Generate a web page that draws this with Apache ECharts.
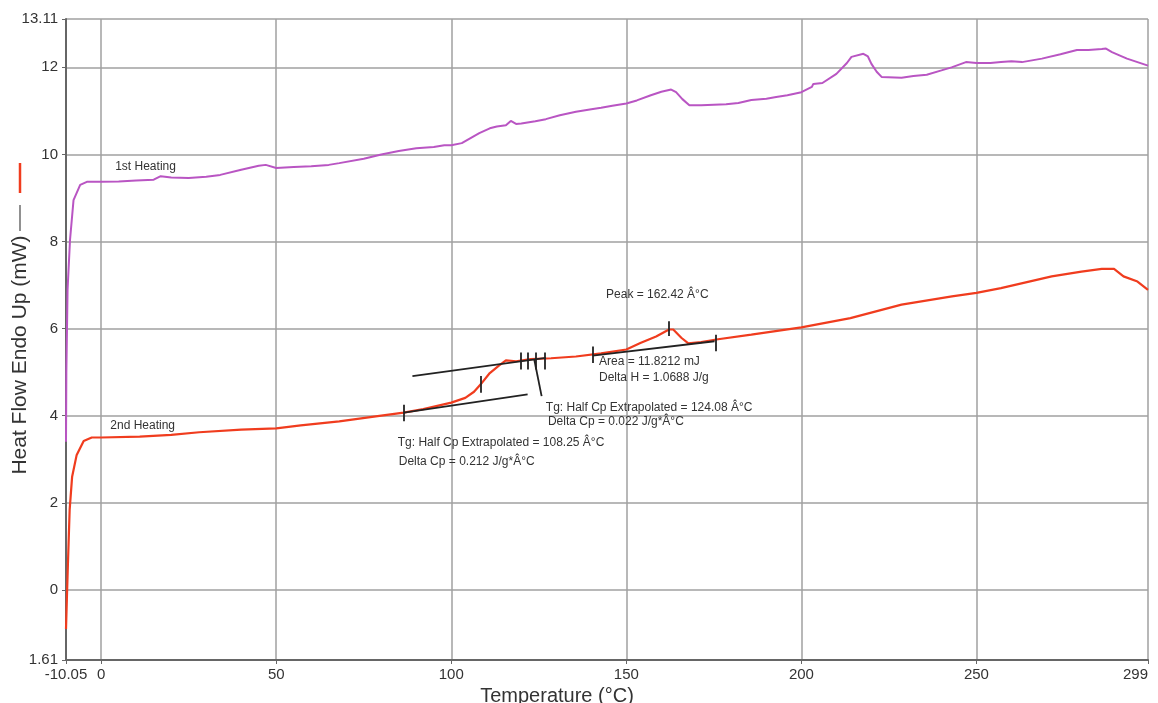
<!DOCTYPE html>
<html>
<head>
<meta charset="utf-8">
<script src="https://cdn.jsdelivr.net/npm/echarts@6/dist/echarts.min.js"></script>
<style>html,body{margin:0;padding:0;background:#fff;}#c{width:1158px;height:703px;}</style>
</head>
<body>
<div id="c"></div>
<script>
// ---- Data ----
const temp1 = [-10.05,-9.95,-9.6,-8.9,-7.9,-6.0,-4.1,0,5,10,15,17,20,25,30,34,40,45,47,50,55,60,65,68,75,80,85,90,95,98,100,103,106,108,111,113,115.6,117,118.5,120,124,127,131,135.6,140,142.8,146,150,153,157,160,162.8,164.2,166,168,171.4,175,178.5,182,185.7,190,192.8,196,200,203,203.4,206,210,213,214.3,217.7,219,220,221.5,222.9,228.6,232,235.8,240,242.9,247,250,254,257,260,263,268.7,274,278.7,282,285.8,287,288.7,291,293,296,299];
const heat1 = [3.4,5.0,6.9,8.04,8.95,9.3,9.37,9.37,9.38,9.4,9.42,9.5,9.47,9.46,9.49,9.53,9.65,9.74,9.76,9.69,9.71,9.73,9.76,9.80,9.9,10.0,10.08,10.14,10.17,10.21,10.21,10.26,10.4,10.49,10.6,10.64,10.67,10.77,10.7,10.71,10.76,10.81,10.9,10.98,11.04,11.07,11.12,11.17,11.24,11.36,11.44,11.49,11.43,11.27,11.13,11.13,11.14,11.15,11.18,11.25,11.28,11.32,11.36,11.43,11.55,11.62,11.64,11.85,12.1,12.24,12.31,12.25,12.08,11.9,11.78,11.76,11.8,11.83,11.93,12.0,12.12,12.1,12.1,12.12,12.14,12.12,12.2,12.3,12.4,12.4,12.42,12.43,12.35,12.27,12.2,12.12,12.04];

const temp2 = [-10.05,-9.8,-9.5,-9.0,-8.3,-7.0,-5.0,-2.7,0,11,20,28,40,50,57,68,80,86.4,92,100,104,106.5,108.4,111,113.6,115.6,118.5,122.7,128.5,135.6,142.8,150,154,158.5,162.2,163.4,165.7,167.7,171.4,175.7,185.7,200,214,228.6,243,250,257,271.5,280,285.8,289.3,292,296,299];
const heat2 = [-0.9,-0.2,0.6,1.85,2.6,3.1,3.42,3.5,3.5,3.52,3.56,3.62,3.68,3.71,3.78,3.87,4.0,4.07,4.15,4.3,4.41,4.55,4.72,4.98,5.15,5.27,5.25,5.3,5.32,5.36,5.43,5.52,5.67,5.82,5.98,5.98,5.79,5.66,5.69,5.75,5.86,6.03,6.24,6.55,6.74,6.82,6.93,7.2,7.31,7.37,7.37,7.2,7.08,6.89];

// analysis construction lines: [x1, y1, x2, y2]
const baseLines = [
  [86.5,4.07,121.8,4.49],
  [88.9,4.91,127.0,5.33],
  [123.7,5.29,125.8,4.45],
  [140.4,5.38,175.2,5.71]
];
// vertical marker ticks: [x, yLow, yHigh]
const markerTicks = [
  [86.5,3.87,4.25],
  [108.3,4.53,4.91],
  [119.9,5.06,5.45],
  [121.8,5.06,5.45],
  [124.2,5.06,5.45],
  [126.8,5.06,5.45],
  [140.4,5.21,5.59],
  [162.0,5.83,6.17],
  [175.5,5.48,5.86]
];
// text annotations: [text, x, y]
const notes = [
  ['1st Heating', 4.0, 9.71],
  ['2nd Heating', 2.6, 3.78],
  ['Peak = 162.42 Â°C', 144.2, 6.78],
  ['Area = 11.8212 mJ', 142.2, 5.24],
  ['Delta H = 1.0688 J/g', 142.2, 4.88],
  ['Tg: Half Cp Extrapolated = 124.08 Â°C', 127.0, 4.18],
  ['Delta Cp = 0.022 J/g*Â°C', 127.6, 3.87],
  ['Tg: Half Cp Extrapolated = 108.25 Â°C', 84.7, 3.39],
  ['Delta Cp = 0.212 J/g*Â°C', 85.0, 2.95]
];
const xTicks = [-10.05,0,50,100,150,200,250,299];
const yTicks = [-1.61,0,2,4,6,8,10,12,13.11];
const yTickText = {'-1.61':'1.61'};
const yTitle = 'Heat Flow Endo Up (mW)';
const xTitle = 'Temperature (°C)';

const chart = echarts.init(document.getElementById('c'));
const pair = (xs, ys) => xs.map((x,i)=>[x, ys[i]]);

const segData = baseLines.map(s => [{coord:[s[0],s[1]]},{coord:[s[2],s[3]]}])
  .concat(markerTicks.map(t => [{coord:[t[0],t[1]]},{coord:[t[0],t[2]]}]));

const FONT = 'Liberation Sans, Arial, sans-serif';
const axisLabelStyle = {color:'#333', fontSize:15, fontFamily:FONT};

chart.setOption({
  animation:false,
  backgroundColor:'#fff',
  grid:{left:66, right:10, top:19, bottom:43, containLabel:false, outerBoundsMode:'none'},
  xAxis:{
    type:'value', min:-10.05, max:299,
    name:xTitle, nameLocation:'middle', nameGap:24,
    nameTextStyle:{color:'#333', fontSize:20, fontFamily:FONT, padding:[0,100,0,0]},
    axisLine:{show:true, onZero:false, lineStyle:{color:'#666', width:2}},
    axisTick:{show:true, length:4, customValues:xTicks, lineStyle:{color:'#666'}},
    axisLabel:Object.assign({customValues:xTicks, margin:7, alignMaxLabel:'right', formatter:v=>String(v)}, axisLabelStyle),
    splitLine:{show:true, lineStyle:{color:'#a0a0a0', width:1.5}}
  },
  yAxis:{
    type:'value', min:-1.61, max:13.11,
    axisLine:{show:true, onZero:false, lineStyle:{color:'#666', width:2}},
    axisTick:{show:true, length:4, customValues:yTicks, lineStyle:{color:'#666'}},
    axisLabel:Object.assign({customValues:yTicks, margin:8, formatter:v=> (yTickText[String(v)] !== undefined ? yTickText[String(v)] : String(v))}, axisLabelStyle),
    splitLine:{show:true, lineStyle:{color:'#a0a0a0', width:1.5}}
  },
  graphic:[
    {type:'text', x:20, y:355, rotation:Math.PI/2,
      style:{text:yTitle, fill:'#333', font:'21px ' + FONT, align:'center', verticalAlign:'middle'}},
    {type:'line', shape:{x1:20, y1:163, x2:20, y2:193}, style:{stroke:'#f03c1e', lineWidth:2.5}},
    {type:'line', shape:{x1:20, y1:205, x2:20, y2:231}, style:{stroke:'#555', lineWidth:1.3}}
  ],
  series:[
    {
      name:'1st Heating', type:'line', data:pair(temp1, heat1), showSymbol:false, smooth:false,
      lineStyle:{color:'#b955c3', width:2}, itemStyle:{color:'#b955c3'}, z:3
    },
    {
      name:'2nd Heating', type:'line', data:pair(temp2, heat2), showSymbol:false, smooth:false,
      lineStyle:{color:'#f03c1e', width:2.2}, itemStyle:{color:'#f03c1e'}, z:4,
      markLine:{
        silent:true, symbol:['none','none'], label:{show:false},
        lineStyle:{color:'#222', width:1.8, type:'solid'},
        emphasis:{disabled:true},
        data:segData
      },
      markPoint:{
        silent:true, symbol:'rect', symbolSize:0,
        data:notes.map(n => ({
          coord:[n[1], n[2]], value:n[0],
          label:{show:true, position:'right', distance:0, formatter:n[0],
            color:'#333', fontSize:12, fontFamily:FONT}
        }))
      }
    }
  ]
});
</script>
</body>
</html>
